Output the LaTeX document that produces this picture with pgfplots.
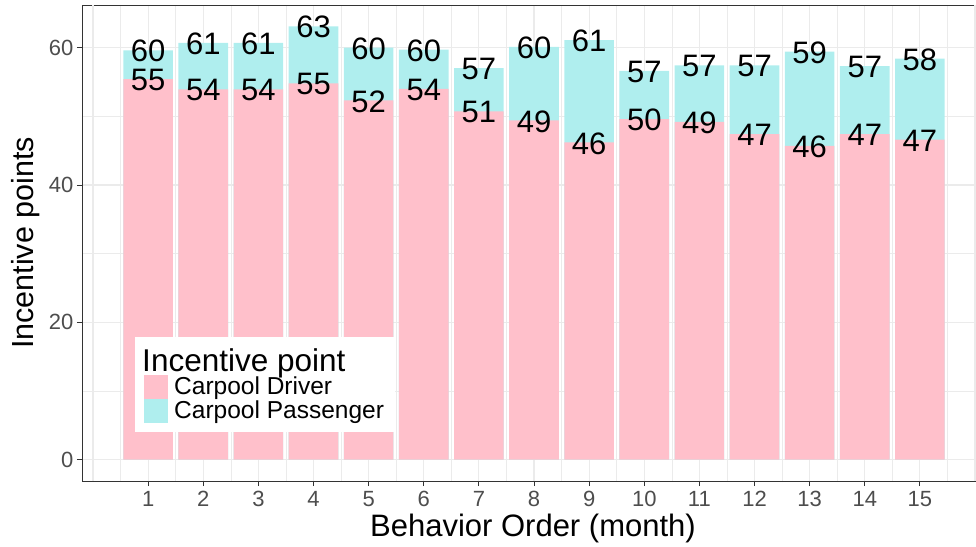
\documentclass[border=0pt]{standalone}
\usepackage{fontspec}
\setmainfont{Liberation Sans}
\usepackage{pgfplots}
\pgfplotsset{compat=1.18}

\definecolor{drv}{HTML}{FFC0CB}
\definecolor{psg}{HTML}{AFEEEE}
\definecolor{grid92}{HTML}{EBEBEB}
\definecolor{gray20}{HTML}{333333}
\definecolor{gray30}{HTML}{4D4D4D}

\begin{document}
\begin{tikzpicture}
\begin{axis}[
    scale only axis,
    width=893pt, height=476pt,
    xmin=-0.2, xmax=16,
    ymin=-3.1, ymax=66.2,
    ybar, bar width=0.9,
    xtick={1,...,15},
    extra x ticks={0,16},
    extra x tick labels={},
    extra x tick style={major tick length=0pt},
    minor xtick={0.5,1.5,...,15.5},
    ytick={0,20,40,60},
    minor ytick={10,30,50},
    tick align=outside,
    xtick pos=left, ytick pos=left,
    major tick length=5pt, minor tick length=0pt,
    tick style={gray20, line width=0.8pt},
    grid=both,
    major grid style={grid92, line width=1.2pt},
    minor grid style={grid92, line width=0.6pt},
    axis line style={gray20, line width=0.8pt},
    /pgf/number format/assume math mode=true,
    ticklabel style={font=\fontsize{22}{22}\selectfont, text=gray30},
    xticklabel style={yshift=-2pt},
    xlabel={Behavior Order (month)},
    ylabel={Incentive points},
    every axis x label/.style={at={(axis description cs:0.505,-0.1005)}, anchor=center, font=\fontsize{31}{31}\selectfont},
    every axis y label/.style={at={(axis description cs:-0.0635,0.5)}, rotate=90, anchor=center, font=\fontsize{30.5}{30.5}\selectfont},
    legend image code/.code={\fill[#1] (0pt,-12pt) rectangle (24pt,12pt);},
    legend style={at={(rel axis cs:0.0594,0.3025)}, anchor=north west,
        draw=none, fill=white, inner xsep=9pt, inner ysep=9pt,
        row sep=0pt, font=\fontsize{24.5}{24.5}\selectfont,
        nodes={inner sep=2pt}},
    legend cell align=left,
]

% Carpool Passenger (drawn behind)
\addplot[fill=psg, draw=none, bar shift=0pt, forget plot,
    point meta=y,
    nodes near coords={\pgfmathprintnumber[fixed,precision=0]{\pgfplotspointmeta}},
    nodes near coords align={center},
    every node near coord/.append style={font=\fontsize{31}{31}\selectfont, text=black, yshift=-1pt}]
    coordinates {
    (1,59.6) (2,60.7) (3,60.7) (4,63.1) (5,60.0) (6,59.7) (7,57.0) (8,60.1)
    (9,61.1) (10,56.6) (11,57.4) (12,57.4) (13,59.4) (14,57.3) (15,58.4)
};

% Carpool Driver (in front)
\addplot[fill=drv, draw=none, bar shift=0pt, forget plot,
    point meta=y,
    nodes near coords={\pgfmathprintnumber[fixed,precision=0]{\pgfplotspointmeta}},
    nodes near coords align={center},
    every node near coord/.append style={font=\fontsize{31}{31}\selectfont, text=black, yshift=-1pt}]
    coordinates {
    (1,55.4) (2,53.9) (3,53.9) (4,54.8) (5,52.3) (6,54.0) (7,50.7) (8,49.4)
    (9,46.2) (10,49.6) (11,49.2) (12,47.4) (13,45.7) (14,47.4) (15,46.6)
};

\addlegendimage{empty legend}
\addlegendentry{\hspace*{-28pt}\fontsize{31.5}{31.5}\selectfont Incentive point\rule[-11pt]{0pt}{0pt}}
\addlegendimage{fill=drv, draw=none}
\addlegendentry{\hspace*{4pt}Carpool Driver}
\addlegendimage{fill=psg, draw=none}
\addlegendentry{\hspace*{4pt}Carpool Passenger}
\end{axis}
\pgfresetboundingbox
\path[use as bounding box] (current axis.south west) ++(-82pt,-65pt) rectangle ++(976pt,546pt);
\end{tikzpicture}
\end{document}
